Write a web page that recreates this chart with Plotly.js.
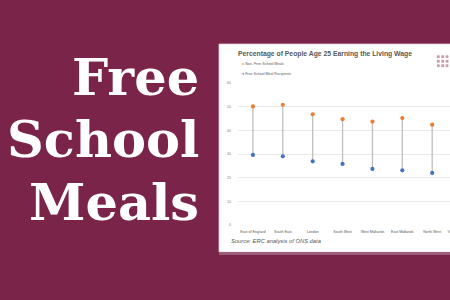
<!DOCTYPE html>
<html>
<head>
<meta charset="utf-8">
<script src="https://cdn.plot.ly/plotly-3.0.1.min.js"></script>
<style>
  html, body { margin: 0; padding: 0; width: 450px; height: 300px; overflow: hidden; background: #7b2449; }
  #chart { width: 520px; height: 300px; }
</style>
</head>
<body>
<div id="chart"></div>
<script>
// Regions along the x axis
const regions = ['East of England', 'South East', 'London', 'South West',
                 'West Midlands', 'East Midlands', 'North West', 'Yorks and Humber'];
// Share of people aged 25 earning the living wage (%)
const nonFsm = [50.1, 50.8, 46.8, 44.7, 43.7, 45.2, 42.4, null];
const fsm    = [29.6, 29.0, 26.9, 25.8, 23.7, 23.1, 22.0, null];
const yTicks = [0, 10, 20, 30, 40, 50, 60];

// Figure geometry (pixels)
const W = 520, H = 300;
const L = 238, R = 43, T = 83, B = 75;
const plotW = W - L - R, plotH = H - T - B;
const px = p => (p - L) / plotW;          // pixel x -> paper x
const py = p => (H - B - p) / plotH;      // pixel y -> paper y

// Vertical connectors between the two series for each region
const linkX = [], linkY = [];
regions.forEach((r, i) => {
  if (nonFsm[i] == null || fsm[i] == null) return;
  linkX.push(r, r, null);
  linkY.push(fsm[i], nonFsm[i], null);
});

const traces = [
  { type: 'scatter', mode: 'lines', x: linkX, y: linkY, hoverinfo: 'skip',
    line: { color: '#bfbfbf', width: 1.3 }, showlegend: false },
  { type: 'scatter', mode: 'markers', name: 'Non- Free School Meals', x: regions, y: nonFsm,
    marker: { color: '#ed7d31', size: 4.2 }, showlegend: false },
  { type: 'scatter', mode: 'markers', name: 'Free School Meal Recipients', x: regions, y: fsm,
    marker: { color: '#4472c4', size: 4.2 }, showlegend: false }
];

// Small logo grid in the corner of the card
const logo = [];
[438.3, 442.7, 447].forEach(cx => {
  [56.7, 61.3, 65.7].forEach(cy => {
    logo.push({ type: 'rect', xref: 'paper', yref: 'paper', layer: 'below',
      x0: px(cx - 1.4), x1: px(cx + 1.4), y0: py(cy + 1.4), y1: py(cy - 1.4),
      fillcolor: '#c99cb0', line: { width: 0 } });
  });
});

const bigFont = { family: 'DejaVu Serif', size: 51, color: '#ffffff', weight: 'bold' };
const bigWord = (t, yc) => ({ text: '<b>' + t + '</b>', xref: 'paper', yref: 'paper',
  x: px(201), y: py(yc), xanchor: 'right', yanchor: 'middle', showarrow: false, font: bigFont });

const legendFont = { family: 'Liberation Sans', size: 3.6, color: '#595959' };

const layout = {
  width: W, height: H,
  margin: { l: L, r: R, t: T, b: B, pad: 0 },
  paper_bgcolor: '#7b2449',
  plot_bgcolor: 'rgba(0,0,0,0)',
  showlegend: false,
  title: {
    text: '<b>Percentage of People Age 25 Earning the Living Wage</b>',
    xref: 'container', yref: 'container', x: 325 / W, y: 1 - 54 / H,
    xanchor: 'center', yanchor: 'middle',
    font: { family: 'Liberation Sans', size: 6.8, color: '#595959' }
  },
  xaxis: {
    type: 'category', range: [-0.5, regions.length - 0.5],
    showgrid: false, zeroline: false, showline: false, ticks: '',
    ticklabelstandoff: 3,
    tickfont: { family: 'Liberation Sans', size: 3.6, color: '#595959' }
  },
  yaxis: {
    range: [0, 60], tickvals: yTicks, ticksuffix: '%',
    showgrid: true, gridcolor: '#e9e9e9', gridwidth: 1,
    zeroline: false, showline: false, ticks: '',
    ticklabelstandoff: 6,
    tickfont: { family: 'Liberation Sans', size: 3.6, color: '#7f7f7f' }
  },
  shapes: [
    // white card behind the chart
    { type: 'rect', xref: 'paper', yref: 'paper', layer: 'below',
      x0: px(219), x1: px(W + 5), y0: py(252), y1: py(44),
      fillcolor: '#ffffff', line: { color: '#d8d0d4', width: 0.8 } },
    // pale strip under the card
    { type: 'rect', xref: 'paper', yref: 'paper', layer: 'below',
      x0: px(219), x1: px(W + 5), y0: py(255), y1: py(252.5),
      fillcolor: '#9c5a78', line: { width: 0 } }
  ].concat(logo),
  annotations: [
    bigWord('Free', 77.4),
    bigWord('School', 139.4),
    bigWord('Meals', 202.4),
    { text: '<span style="color:#ed7d31">●</span> Non- Free School Meals',
      xref: 'paper', yref: 'paper', x: px(240.3), y: py(64.3), xanchor: 'left', yanchor: 'middle',
      showarrow: false, font: legendFont },
    { text: '<span style="color:#4472c4">●</span> Free School Meal Recipients',
      xref: 'paper', yref: 'paper', x: px(240.3), y: py(73.7), xanchor: 'left', yanchor: 'middle',
      showarrow: false, font: legendFont },
    { text: 'Source: ERC analysis of ONS data',
      xref: 'paper', yref: 'paper', x: px(228.5), y: py(240.7), xanchor: 'left', yanchor: 'middle',
      showarrow: false,
      font: { family: 'Liberation Sans', size: 5.8, color: '#595959', style: 'italic' } }
  ]
};

Plotly.newPlot('chart', traces, layout, { staticPlot: true, displayModeBar: false });
</script>
</body>
</html>
